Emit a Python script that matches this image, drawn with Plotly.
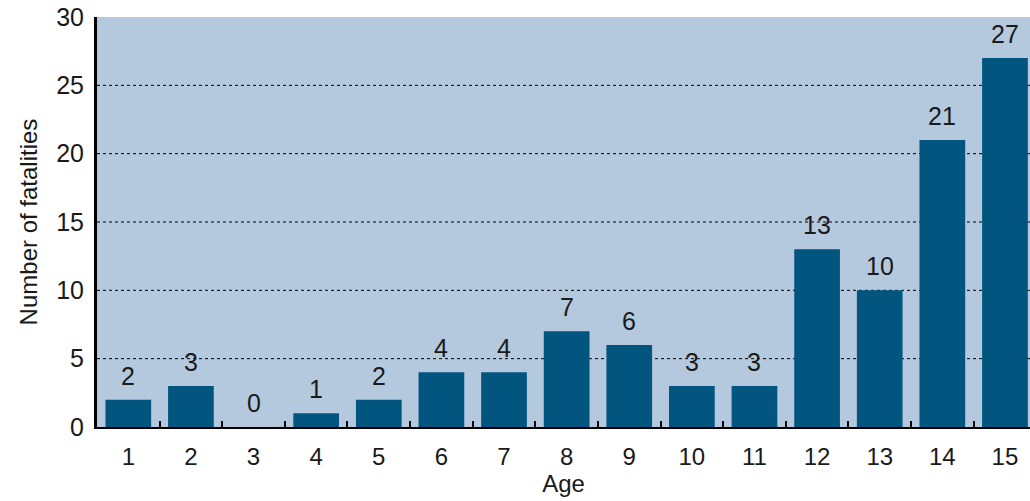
import plotly.graph_objects as go

ages = ["1", "2", "3", "4", "5", "6", "7", "8", "9", "10", "11", "12", "13", "14", "15"]
fatalities = [2, 3, 0, 1, 2, 4, 4, 7, 6, 3, 3, 13, 10, 21, 27]
y_ticks = [0, 5, 10, 15, 20, 25, 30]

BAR = "#02557F"
BG = "#B5C9DE"
FONT = "Liberation Sans"
TXT = "#1a1a1a"

fig = go.Figure()
fig.add_trace(go.Bar(
    x=ages, y=fatalities, marker=dict(color=BAR, line=dict(width=0)),
    width=0.73, hoverinfo="skip",
))

# value labels above each bar (x given as category index)
for i, v in enumerate(fatalities):
    fig.add_annotation(x=i, y=v, text=str(v), showarrow=False,
                       yanchor="bottom", yshift=8,
                       font=dict(family=FONT, size=25, color=TXT))

# dotted horizontal gridlines (no line on the top edge)
for t in y_ticks[1:-1]:
    fig.add_shape(type="line", xref="paper", x0=0, x1=1, yref="y", y0=t, y1=t,
                  line=dict(color="black", width=1, dash="dot"), layer="below")

fig.update_layout(
    width=1030, height=501,
    margin=dict(l=97, r=0, t=17, b=74),
    plot_bgcolor=BG, paper_bgcolor="white",
    showlegend=False,
    font=dict(family=FONT, color=TXT),
)
fig.update_xaxes(
    type="category", range=[-0.5, 14.4],
    tickson="boundaries", ticks="inside", ticklen=6, tickwidth=2, tickcolor="black",
    showline=True, linecolor="black", linewidth=2,
    showgrid=False, tickfont=dict(size=24), ticklabelstandoff=7,
    title=dict(text="Age", font=dict(size=24), standoff=5),
)
fig.update_yaxes(
    range=[0, 30], tickvals=y_ticks, showgrid=False, zeroline=False,
    showline=True, linecolor="black", linewidth=3,
    ticks="", ticklabelstandoff=5, tickfont=dict(size=25),
    title=dict(text="Number of fatalities", font=dict(size=24), standoff=12),
)

fig.write_html("out.html")
